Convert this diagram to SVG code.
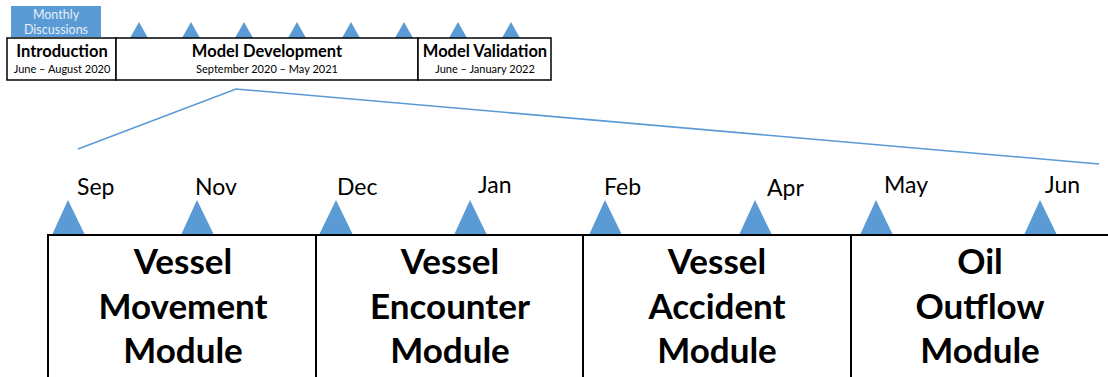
<svg xmlns="http://www.w3.org/2000/svg" width="1108" height="377" viewBox="0 0 1108 377">
  <style>
    text { font-family: Lato, "Liberation Sans", sans-serif; fill: #000; }
    .phase { font-weight: bold; font-size: 16.5px; text-anchor: middle; }
    .dates { font-size: 11px; text-anchor: middle; }
    .month { font-size: 23px; }
    .module { font-weight: bold; font-size: 35px; text-anchor: middle; }
    .note { font-size: 12.5px; text-anchor: middle; fill: #e6eef8; }
    .box { fill: #fff; stroke: #000; stroke-width: 1.5; }
    .rule { stroke: #000; stroke-width: 2; fill: none; }
    .tick { fill: #5b9bd5; }
    .zoom { stroke: #5b9bd5; stroke-width: 1.6; fill: none; }
  </style>

  <!-- overall schedule -->
  <g id="monthly-discussions">
    <rect x="11" y="6" width="90" height="31" fill="#5b9bd5"/>
    <text class="note" x="56" y="19">Monthly</text>
    <text class="note" x="56" y="34">Discussions</text>
  </g>
  <g id="schedule-ticks" class="tick">
    <polygon points="130,38 139,22 148,38"/>
    <polygon points="182,38 191,22 200,38"/>
    <polygon points="235,38 244,22 253,38"/>
    <polygon points="288,38 297,22 306,38"/>
    <polygon points="342,38 351,22 360,38"/>
    <polygon points="395,38 404,22 413,38"/>
    <polygon points="449,38 458,22 467,38"/>
    <polygon points="502,38 511,22 520,38"/>
  </g>
  <g id="introduction">
    <rect class="box" x="7" y="38" width="109" height="42"/>
    <text class="phase" x="62" y="57">Introduction</text>
    <text class="dates" x="62" y="73">June – August 2020</text>
  </g>
  <g id="model-development">
    <rect class="box" x="116" y="38" width="302" height="42"/>
    <text class="phase" x="267" y="57">Model Development</text>
    <text class="dates" x="267" y="73">September 2020 – May 2021</text>
  </g>
  <g id="model-validation">
    <rect class="box" x="418" y="38" width="133" height="42"/>
    <text class="phase" x="485" y="57">Model Validation</text>
    <text class="dates" x="485" y="73">June – January 2022</text>
  </g>

  <!-- expansion of the development phase -->
  <g id="connectors">
    <polyline class="zoom" points="78,149 236,89 1099,164"/>
  </g>

  <!-- detailed development timeline -->
  <g id="month-ticks" class="tick">
    <polygon points="52,235 68,200 85,235"/>
    <polygon points="181,235 197,200 214,235"/>
    <polygon points="319,235 336,200 353,235"/>
    <polygon points="454,235 470,200 487,235"/>
    <polygon points="589,235 605,200 622,235"/>
    <polygon points="739,235 755,200 772,235"/>
    <polygon points="860,235 876,200 893,235"/>
    <polygon points="1024,235 1040,200 1057,235"/>
  </g>
  <g id="month-labels">
    <text class="month" x="77" y="195">Sep</text>
    <text class="month" x="195" y="195">Nov</text>
    <text class="month" x="337" y="195">Dec</text>
    <text class="month" x="478" y="193">Jan</text>
    <text class="month" x="604" y="195">Feb</text>
    <text class="month" x="767" y="196">Apr</text>
    <text class="month" x="884" y="193">May</text>
    <text class="month" x="1045" y="193">Jun</text>
  </g>
  <g id="timeline-frame">
    <line class="rule" x1="47" y1="235" x2="1108" y2="235"/>
    <line class="rule" x1="48" y1="235" x2="48" y2="377"/>
    <line class="rule" x1="316" y1="235" x2="316" y2="377"/>
    <line class="rule" x1="583" y1="235" x2="583" y2="377"/>
    <line class="rule" x1="851" y1="235" x2="851" y2="377"/>
  </g>
  <g id="vessel-movement-module">
    <text class="module" x="183" y="274">Vessel</text>
    <text class="module" x="183" y="319">Movement</text>
    <text class="module" x="183" y="363">Module</text>
  </g>
  <g id="vessel-encounter-module">
    <text class="module" x="450" y="274">Vessel</text>
    <text class="module" x="450" y="319">Encounter</text>
    <text class="module" x="450" y="363">Module</text>
  </g>
  <g id="vessel-accident-module">
    <text class="module" x="717" y="274">Vessel</text>
    <text class="module" x="717" y="319">Accident</text>
    <text class="module" x="717" y="363">Module</text>
  </g>
  <g id="oil-outflow-module">
    <text class="module" x="980" y="274">Oil</text>
    <text class="module" x="980" y="319">Outflow</text>
    <text class="module" x="980" y="363">Module</text>
  </g>
</svg>
